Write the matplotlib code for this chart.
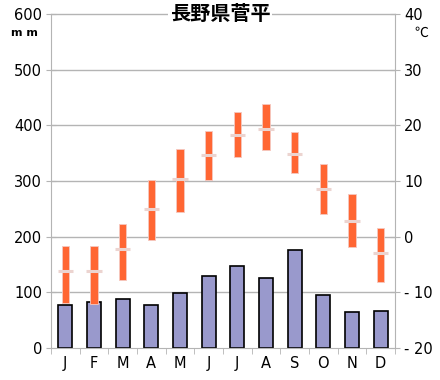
import matplotlib
matplotlib.use("Agg")
import matplotlib.pyplot as plt
import numpy as np

months = ["J", "F", "M", "A", "M", "J", "J", "A", "S", "O", "N", "D"]
precip = [77, 83, 88, 77, 99, 129, 147, 125, 176, 95, 65, 66]
temp_max = [-1.7, -1.7, 2.2, 10.2, 15.8, 19.0, 22.4, 23.8, 18.8, 13.0, 7.7, 1.6]
temp_min = [-12.0, -12.1, -7.8, -0.6, 4.4, 10.2, 14.3, 15.5, 11.4, 4.1, -1.9, -8.1]
temp_mean = [-6.1, -6.1, -2.3, 4.9, 10.4, 14.6, 18.2, 19.3, 14.9, 8.6, 2.9, -2.9]
precip_ticks = [0, 100, 200, 300, 400, 500, 600]
temp_ticks = [-20, -10, 0, 10, 20, 30, 40]

grid_color = "#b4b4b4"
fig = plt.figure(figsize=(4.4, 3.8), dpi=100)
ax = fig.add_axes([51 / 440, 32 / 380, 344 / 440, 334 / 380])
x = np.arange(len(months))

ax.set_xlim(-0.5, 11.5)
ax.set_ylim(0, 600)
for v in precip_ticks[1:]:
    ax.axhline(v, color=grid_color, lw=1, zorder=0, clip_on=False)
ax.bar(x, precip, width=0.49, color="#9999cc", edgecolor="black", lw=1.2, zorder=2)

ax.set_yticks(precip_ticks)
ax.set_yticklabels([str(v) for v in precip_ticks], fontsize=10.5)
ax.set_xticks(x)
ax.set_xticklabels(months, fontsize=10.5)
ax.tick_params(axis="x", length=0, pad=6)
ax.set_xticks(np.arange(-0.5, 12, 1), minor=True)
ax.tick_params(axis="x", which="minor", length=4, direction="out", color=grid_color)
ax.tick_params(axis="y", length=7, direction="inout", color=grid_color, pad=3)
for s in ["top", "right"]:
    ax.spines[s].set_visible(False)
for s in ["left", "bottom"]:
    ax.spines[s].set_color(grid_color)

ax2 = ax.twinx()
ax2.set_ylim(-20, 40)
ax2.set_yticks(temp_ticks)
ax2.set_yticklabels([str(v).replace("-", "- ") for v in temp_ticks], fontsize=10.5)
ax2.tick_params(axis="y", length=7, direction="inout", color=grid_color, pad=3)
for s in ["top", "left", "bottom"]:
    ax2.spines[s].set_visible(False)
ax2.spines["right"].set_color(grid_color)

heights = np.array(temp_max) - np.array(temp_min)
ax2.bar(x, heights, bottom=temp_min, width=0.26, color="#ff6633",
        edgecolor="#f5c8c0", lw=0.6, zorder=3)
ax2.hlines(temp_mean, x - 0.27, x + 0.27, color="#ecd4d0", lw=2.2, zorder=4)

fig.text(220 / 440, 1 - 14 / 380, "長野県菅平", ha="center", va="center",
         fontsize=14.5, fontweight="bold", family=["Noto Sans CJK JP", "DejaVu Sans"],
         bbox=dict(facecolor="white", edgecolor="none", pad=1.5))
fig.text(24 / 440, 1 - 33 / 380, "m m", ha="center", va="center", fontsize=8,
         fontweight="bold")
fig.text(421 / 440, 1 - 33 / 380, "℃", ha="center", va="center", fontsize=10,
         family=["Noto Sans CJK JP", "DejaVu Sans"])

fig.savefig("out.png", dpi=100)
